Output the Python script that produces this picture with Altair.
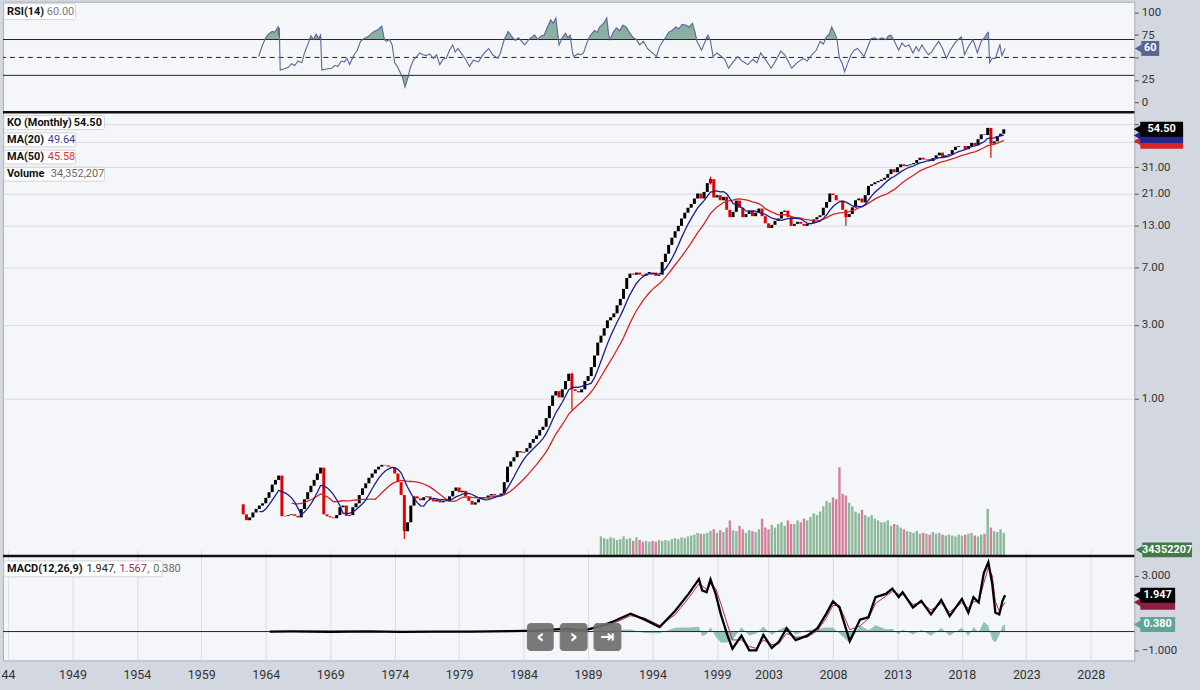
import altair as alt
import pandas as pd

FONT = "Roboto"

# ---------------------------------------------------------------- data
PRICE_T0 = 1962.0  # first quarterly candle (one close per quarter)
CLOSE = [
    0.209, 0.180, 0.165, 0.172,  0.185, 0.195, 0.205, 0.212,
    0.230, 0.250, 0.280, 0.300,  0.320, 0.175, 0.176, 0.178,
    0.180, 0.176, 0.172, 0.195,  0.225, 0.250, 0.275, 0.300,
    0.330, 0.360, 0.180, 0.175,  0.172, 0.170, 0.178, 0.200,
    0.205, 0.176, 0.178, 0.200,  0.212, 0.240, 0.265, 0.285,
    0.310, 0.330, 0.350, 0.365,  0.375, 0.372, 0.365, 0.360,
    0.330, 0.290, 0.240, 0.140,  0.160, 0.205, 0.235, 0.228,
    0.222, 0.232, 0.235, 0.225,  0.218, 0.222, 0.215, 0.220,
    0.218, 0.235, 0.255, 0.268,  0.250, 0.255, 0.235, 0.220,
    0.208, 0.215, 0.225, 0.232,  0.228, 0.238, 0.243, 0.238,
    0.240, 0.245, 0.290, 0.365,  0.395, 0.420, 0.460, 0.450,
    0.455, 0.480, 0.520, 0.550,  0.580, 0.630, 0.660, 0.750,
    0.900, 1.050, 1.120, 1.020,  1.150, 1.300, 1.450, 1.150,
    1.120, 1.100, 1.150, 1.300,  1.400, 1.600, 1.900, 2.300,
    2.550, 2.850, 3.200, 3.350,  3.550, 4.000, 4.400, 5.100,
    6.000, 6.400, 6.300, 6.500,  6.300, 6.200, 6.400, 6.550,
    6.500, 6.200, 6.300, 7.600,  8.600, 9.800, 10.90, 12.00,
    13.00, 14.50, 15.80, 17.00,  18.00, 19.50, 21.00, 19.50,
    21.50, 24.50, 26.00, 19.80,  20.50, 19.00, 20.00, 16.50,
    14.80, 16.00, 18.90, 17.00,  14.80, 15.50, 16.30, 15.00,
    15.80, 16.80, 15.00, 13.50,  12.60, 13.20, 14.00, 14.50,
    16.00, 16.30, 14.80, 13.00,  13.40, 13.80, 13.40, 13.00,
    13.40, 13.60, 14.30, 14.80,  15.20, 17.00, 18.50, 21.00,
    20.50, 19.00, 18.90, 16.50,  14.80, 15.50, 17.10, 19.00,
    19.50, 18.40, 20.50, 23.50,  24.10, 24.80, 25.30, 25.80,
    26.50, 28.00, 30.10, 28.80,  31.00, 32.40, 31.50, 32.00,
    32.40, 33.00, 34.50, 35.70,  34.80, 35.00, 34.00, 35.50,
    37.00, 38.50, 36.00, 37.00,  37.60, 40.00, 42.00, 42.50,
    42.50, 40.50, 42.50, 44.50,  43.00, 47.00, 50.50, 50.00,
    55.60, 44.00, 45.50, 49.20,  51.00, 54.50,
]

WICK_T = [1974.75, 1987.75, 1998.5, 2009.0, 2020.25]
WICK_LO = [0.125, 0.85, 24.0, 13.0, 35.7]
WICK_HI = [0.240, 1.47, 27.0, 16.5, 55.6]

VOL_T0 = 1990.0  # quarterly volume, millions of shares
VOLUME = [
    110, 100, 95, 105,  100, 90, 95, 110,  95, 100, 85, 105,  90, 80, 85, 80,
    85, 80, 90, 85,  90, 85, 95, 100,  95, 105, 100, 110,  115, 120, 130, 125,
    125, 130, 140, 150,  130, 145, 135, 160,  200, 145, 140, 170,  150, 130, 145, 140,
    135, 150, 210, 160,  150, 175, 160, 180,  190, 170, 200, 180,  180, 200, 190, 210,
    200, 220, 240, 230,  250, 280, 310, 300,  330, 320, 500, 350,  340, 300, 280, 250,
    240, 260, 230, 220,  230, 210, 200, 190,  190, 200, 170, 180,  175, 160, 150, 140,
    135, 130, 140, 125,  130, 125, 120, 135,  125, 130, 120, 115,  120, 115, 110, 120,
    115, 120, 125, 130,  115, 110, 120, 125,  265, 160, 140, 135,  150, 130,
]

RSI_T = [
    1963.45, 1963.7, 1963.96, 1964.2, 1964.5, 1964.7, 1964.95, 1965.0, 1965.05, 1965.12,
    1965.4, 1965.75, 1966.0, 1966.25, 1966.5, 1966.8, 1967.0, 1967.3, 1967.5, 1967.7,
    1967.9, 1968.1, 1968.25, 1968.35, 1968.7, 1969.1, 1969.35, 1969.6, 1969.85, 1970.1,
    1970.3, 1970.5, 1970.85, 1971.1, 1971.35, 1971.6, 1971.9, 1972.15, 1972.4, 1972.7,
    1973.0, 1973.2, 1973.35, 1973.6, 1973.8, 1974.0, 1974.2, 1974.4, 1974.6, 1974.8,
    1975.0, 1975.2, 1975.45, 1975.7, 1975.95, 1976.2, 1976.45, 1976.7, 1977.0, 1977.25,
    1977.5, 1977.75, 1978.0, 1978.25, 1978.5, 1978.7, 1978.9, 1979.2, 1979.5, 1979.8,
    1980.1, 1980.5, 1980.8, 1981.0, 1981.3, 1981.6, 1982.0, 1982.2, 1982.5, 1982.8,
    1983.1, 1983.35, 1983.6, 1983.85, 1984.1, 1984.4, 1984.65, 1984.85, 1985.1, 1985.35,
    1985.6, 1985.85, 1986.1, 1986.3, 1986.5, 1986.65, 1986.75, 1987.0, 1987.25, 1987.45,
    1987.6, 1987.8, 1987.9, 1988.2, 1988.45, 1988.65, 1988.9, 1989.2, 1989.5, 1989.7,
    1989.9, 1990.2, 1990.45, 1990.6, 1990.7, 1990.95, 1991.2, 1991.45, 1991.7, 1991.95,
    1992.2, 1992.5, 1992.75, 1993.0, 1993.3, 1993.6, 1993.9, 1994.1, 1994.3, 1994.55,
    1994.8, 1995.0, 1995.25, 1995.5, 1995.8, 1996.05, 1996.3, 1996.6, 1996.85, 1997.1,
    1997.3, 1997.45, 1997.6, 1997.8, 1998.0, 1998.3, 1998.5, 1998.7, 1999.0, 1999.35,
    1999.6, 1999.9, 2000.2, 2000.6, 2000.95, 2001.4, 2001.8, 2002.1, 2002.4, 2002.8,
    2003.2, 2003.5, 2003.95, 2004.3, 2004.8, 2005.2, 2005.7, 2006.0, 2006.35, 2006.7,
    2007.0, 2007.25, 2007.5, 2007.7, 2007.9, 2008.1, 2008.3, 2008.5, 2008.7, 2008.9,
    2009.1, 2009.4, 2009.65, 2009.9, 2010.15, 2010.4, 2010.7, 2010.95, 2011.2, 2011.5,
    2011.8, 2012.1, 2012.3, 2012.5, 2012.7, 2012.9, 2013.1, 2013.35, 2013.6, 2013.9,
    2014.2, 2014.45, 2014.65, 2014.9, 2015.15, 2015.4, 2015.65, 2015.9, 2016.2, 2016.5,
    2016.8, 2017.1, 2017.45, 2017.7, 2017.95, 2018.1, 2018.2, 2018.5, 2018.85, 2019.05,
    2019.2, 2019.5, 2019.75, 2019.95, 2020.05, 2020.15, 2020.35, 2020.6, 2020.8, 2020.95,
    2021.1, 2021.35,
]
RSI_V = [
    51, 62, 71, 76, 79, 78, 84, 74, 83, 36,
    37, 39, 43, 41, 46, 44, 55, 66, 74, 70,
    76, 71, 75, 36, 37, 38, 41, 40, 46, 45,
    49, 42, 53, 58, 68, 71, 73, 76, 79, 81,
    85, 70, 68, 70, 64, 44, 40, 34, 28, 17,
    26, 38, 47, 51, 55, 53, 52, 54, 49, 53,
    42, 48, 49, 58, 64, 56, 60, 54, 48, 40,
    47, 45, 52, 56, 60, 53, 49, 55, 70, 79,
    73, 69, 72, 68, 64, 70, 73, 75, 70, 74,
    75, 84, 92, 88, 94, 76, 64, 72, 77, 72,
    75, 55, 51, 54, 53, 55, 66, 75, 80, 78,
    84, 88, 94, 75, 70, 78, 83, 80, 86, 84,
    78, 72, 70, 64, 68, 60, 56, 54, 51, 62,
    68, 72, 78, 80, 84, 82, 87, 86, 84, 88,
    78, 68, 64, 58, 65, 75, 68, 51, 55, 51,
    48, 38, 44, 51, 46, 42, 48, 44, 55, 47,
    38, 45, 57, 52, 38, 44, 49, 46, 53, 58,
    68, 65, 73, 76, 84, 78, 71, 49, 44, 34,
    42, 53, 58, 60, 56, 51, 62, 71, 72, 70,
    72, 70, 74, 75, 70, 64, 58, 66, 62, 64,
    55, 62, 57, 64, 58, 53, 56, 62, 68, 60,
    49, 58, 66, 70, 73, 62, 53, 62, 70, 62,
    55, 68, 72, 77, 78, 44, 49, 49, 58, 64,
    52, 60,
]

MACD_T = [
    1964.3, 1966.0, 1969.0, 1972.0, 1974.5, 1977.0, 1980.0, 1983.0, 1985.0, 1986.5,
    1987.5, 1988.3, 1989.0, 1989.6, 1989.94, 1991.0, 1992.3, 1993.4, 1994.55, 1995.75,
    1996.8, 1997.6, 1997.85, 1998.2, 1998.5, 1998.9, 1999.3, 1999.8, 2000.2, 2000.9,
    2001.5, 2002.05, 2002.6, 2003.25, 2003.8, 2004.4, 2005.1, 2006.0, 2006.8, 2007.45,
    2008.0, 2008.5, 2009.3, 2010.1, 2010.75, 2011.3, 2012.1, 2012.6, 2013.1, 2013.4,
    2014.2, 2014.85, 2015.6, 2016.4, 2017.05, 2018.0, 2018.5, 2018.9, 2019.3, 2019.7,
    2020.05, 2020.35, 2020.6, 2020.9, 2021.15, 2021.35,
]
MACD_V = [
    0.0, 0.01, -0.01, 0.01, -0.02, 0.0, 0.0, 0.02, 0.05, 0.12,
    0.15, 0.08, 0.12, 0.22, 0.28, 0.55, 0.96, 0.64, 0.24, 1.10,
    2.02, 2.81, 2.21, 2.11, 2.79, 2.02, 0.92, -0.18, -0.92, -0.22,
    -1.01, -1.01, -0.18, -0.88, -0.55, 0.18, -0.46, -0.22, 0.18, 0.92,
    1.62, 1.29, -0.51, 0.64, 0.77, 1.84, 2.02, 2.30, 1.84, 2.11,
    1.29, 1.65, 0.92, 1.69, 0.83, 1.75, 1.01, 1.84, 1.56, 3.13,
    3.71, 2.57, 1.01, 0.92, 1.65, 1.947,
]
SIGNAL_V = [
    0.0, 0.01, -0.005, 0.005, -0.01, 0.0, 0.0, 0.01, 0.04, 0.10,
    0.13, 0.10, 0.10, 0.18, 0.24, 0.45, 0.85, 0.72, 0.33, 0.90,
    1.80, 2.55, 2.45, 2.25, 2.55, 2.30, 1.50, 0.40, -0.45, -0.45,
    -0.80, -0.90, -0.45, -0.70, -0.65, -0.10, -0.30, -0.30, 0.05, 0.70,
    1.40, 1.40, 0.10, 0.30, 0.70, 1.50, 1.90, 2.15, 2.00, 2.00,
    1.45, 1.55, 1.15, 1.50, 1.05, 1.55, 1.25, 1.60, 1.60, 2.60,
    3.40, 3.00, 1.60, 1.10, 1.35, 1.567,
]

X_TICKS = [1944, 1949, 1954, 1959, 1964, 1969, 1974, 1979, 1984, 1989,
           1994, 1999, 2003, 2008, 2013, 2018, 2023, 2028]
PRICE_TICKS = [1, 3, 7, 13, 21, 31, 45, 59]
RSI_TICKS = [0, 25, 50, 75, 100]
MACD_TICKS = [-1, 3]

LAST_CLOSE, LAST_MA20, LAST_MA50 = 54.50, 49.64, 45.58
LAST_VOL_M, LAST_VOL_TXT = 34.352207, "34352207"
LAST_RSI = 60.0
LAST_MACD, LAST_SIGNAL, LAST_HIST = 1.947, 1.567, 0.380

# ---------------------------------------------------------------- frames
price_df = pd.DataFrame({"t": [PRICE_T0 + 0.25 * i for i in range(len(CLOSE))], "close": CLOSE})
wick_df = pd.DataFrame({"t": WICK_T, "lo": WICK_LO, "hi": WICK_HI})
vol_t = [VOL_T0 + 0.25 * i for i in range(len(VOLUME))]
vol_up = []
for tv in vol_t:
    i = int(round((tv - PRICE_T0) * 4))
    vol_up.append(bool(i == 0 or CLOSE[i] >= CLOSE[i - 1]))
vol_df = pd.DataFrame({"t": vol_t, "vol": VOLUME, "up": vol_up})
n = min(len(RSI_T), len(RSI_V))
rsi_df = pd.DataFrame({"t": RSI_T[:n], "rsi": RSI_V[:n]})
m = min(len(MACD_T), len(MACD_V), len(SIGNAL_V))
macd_df = pd.DataFrame({"t": MACD_T[:m], "macd": MACD_V[:m], "sig": SIGNAL_V[:m]})

# ---------------------------------------------------------------- layout (one view, 3 panes)
W, H = 1137, 662
RSI_TOP, RSI_BOT = 0, 111
P_TOP, P_BOT = 111, 557
M_TOP, M_BOT = 557, 662
GRID = "#d9dde4"
XS = alt.Scale(domain=[1944.0, 2030.99], nice=False, zero=False)
X_AXIS = alt.Axis(values=X_TICKS, format="d", grid=True, gridColor=GRID, ticks=False,
                  domain=False, labelPadding=8, labelFlush=True, labelOverlap=False,
                  labelExpr="datum.value == 1944 ? '44' : datum.label",
                  labelFontSize=12.5, labelColor="#333", labelFont=FONT, title=None,
                  minExtent=28, maxExtent=28)


def xenc():
    return alt.X("t:Q", scale=XS, axis=X_AXIS)


def yaxis(values, fmt=None, grid=False, expr=None):
    kw = dict(orient="right", values=values, grid=grid, gridColor=GRID, ticks=True, tickSize=4,
              tickColor="#555", domain=False, labelPadding=3, labelFontSize=11.5,
              labelColor="#333", labelFont=FONT, title=None, minExtent=63, maxExtent=63)
    if fmt:
        kw["format"] = fmt
    if expr:
        kw["labelExpr"] = expr
    return alt.Axis(**kw)


RSI_SCALE = alt.Scale(domain=[-11.11, 112.22], range=[RSI_BOT, RSI_TOP], nice=False, zero=False)
# the 50 label sits under the RSI value badge, as in the reference
RSI_AXIS = yaxis(RSI_TICKS, expr="datum.value == 50 ? '' : datum.label")
P_SCALE = alt.Scale(type="log", domain=[0.0971, 70.2], range=[P_BOT, P_TOP], nice=False)
P_AXIS = yaxis(PRICE_TICKS, grid=True,
               expr="datum.value == 45 || datum.value == 59 ? '' : format(datum.value, '.2f')")
V_SCALE = alt.Scale(domain=[0, 2500], range=[P_BOT, P_TOP], nice=False, zero=True)
M_SCALE = alt.Scale(domain=[-1.547, 4.053], range=[M_BOT, M_TOP], nice=False, zero=False)
M_AXIS = yaxis(MACD_TICKS, fmt=".3f")


def yr(f):
    return alt.Y(f"{f}:Q", scale=RSI_SCALE, axis=RSI_AXIS)


def yp(f):
    return alt.Y(f"{f}:Q", scale=P_SCALE, axis=P_AXIS)


def yv(f):
    return alt.Y(f"{f}:Q", scale=V_SCALE, axis=None)


def ym(f):
    return alt.Y(f"{f}:Q", scale=M_SCALE, axis=M_AXIS)


ONE = pd.DataFrame({"a": [0]})


def txt(s, x, y, color="#111", bold=False, size=11, align="left", font=FONT):
    return alt.Chart(pd.DataFrame({"s": [s]})).mark_text(
        align=align, baseline="middle", fontSize=size, font=font,
        fontWeight="bold" if bold else "normal", color=color
    ).encode(x=alt.value(x), y=alt.value(y), text="s:N")


def box(x1, x2, y1, y2, fill="white", stroke="#cfd2d8", radius=2, opacity=1.0):
    return alt.Chart(ONE).mark_rect(fill=fill, stroke=stroke, strokeWidth=1,
                                    cornerRadius=radius, opacity=opacity).encode(
        x=alt.value(x1), x2=alt.value(x2), y=alt.value(y1), y2=alt.value(y2))


def badge(val, text, yfn, fill, x1, x2):
    d = alt.Chart(pd.DataFrame({"bv": [val], "s": [text]}))
    out = [
        d.mark_rule(color=fill, strokeWidth=15).encode(
            x=alt.value(x1), x2=alt.value(x2), y=yfn("bv")),
        d.mark_point(shape="triangle-left", filled=True, color=fill, size=70,
                     opacity=1, strokeWidth=0).encode(x=alt.value(x1 - 3), y=yfn("bv")),
    ]
    if text:
        out.append(d.mark_text(color="white", fontWeight="bold", fontSize=11, font=FONT,
                               baseline="middle").encode(
            x=alt.value((x1 + x2) / 2), y=yfn("bv"), text="s:N"))
    return out


def sep(y):
    return alt.Chart(ONE).mark_rule(color="#111", strokeWidth=2.5).encode(y=alt.value(y))


# ---------------------------------------------------------------- RSI pane
rb = alt.Chart(rsi_df).transform_calculate(
    hi="max(datum.rsi, 70)", lo="min(datum.rsi, 30)", c70="70", c30="30")
rsi_group = alt.layer(
    rb.mark_area(color="#7ea99a", opacity=0.9).encode(x=xenc(), y=yr("hi"), y2="c70:Q"),
    rb.mark_area(color="#7ea99a", opacity=0.9).encode(x=xenc(), y=yr("lo"), y2="c30:Q"),
    alt.Chart(pd.DataFrame({"v": [70, 30]})).mark_rule(color="#222", strokeWidth=1).encode(
        y=yr("v")),
    alt.Chart(pd.DataFrame({"v": [50]})).mark_rule(
        color="#222", strokeWidth=1, strokeDash=[5, 4]).encode(y=yr("v")),
    rb.mark_line(color="#5a6598", strokeWidth=1.1).encode(x=xenc(), y=yr("rsi")),
    *badge(LAST_RSI, f"{LAST_RSI:.0f}", yr, "#5b6592", 1144, 1162),
)

# ---------------------------------------------------------------- price pane
pb = alt.Chart(price_df).transform_window(
    prev="lag(close)", sort=[alt.SortField("t")]
).transform_calculate(open="datum.prev == null ? datum.close : datum.prev")
candles = pb.mark_bar(size=3.0).encode(
    x=xenc(), y=yp("open"), y2="close:Q",
    color=alt.condition("datum.close >= datum.open", alt.value("#000000"), alt.value("#e00000")))
wicks = alt.Chart(wick_df).mark_rule(color="#e00000", strokeWidth=1.2).encode(
    x=xenc(), y=yp("lo"), y2="hi:Q")


def ma_layer(k, color):
    return alt.Chart(price_df).transform_window(
        ma="mean(close)", frame=[-(k - 1), 0], sort=[alt.SortField("t")]
    ).transform_window(
        rn="row_number()", sort=[alt.SortField("t")]
    ).transform_filter(f"datum.rn >= {k}").mark_line(color=color, strokeWidth=1.3).encode(
        x=xenc(), y=yp("ma"))


vol_group = alt.layer(
    alt.Chart(vol_df).mark_bar(size=2.4, opacity=0.7).encode(
        x=xenc(), y=yv("vol"),
        color=alt.condition("datum.up", alt.value("#5d9e6f"), alt.value("#c94b76"))),
    *badge(LAST_VOL_M, LAST_VOL_TXT, yv, "#3f7a47", 1145, 1195),
)

price_group = alt.layer(
    candles, wicks,
    ma_layer(17, "#d62424"),   # MA(50): 50 months ~ 17 quarters
    ma_layer(7, "#1c1c8c"),    # MA(20): 20 months ~ 7 quarters
    *badge(LAST_MA50, "", yp, "#d62424", 1143, 1186),
    *badge(LAST_MA20, "", yp, "#24248f", 1143, 1186),
    *badge(LAST_CLOSE, f"{LAST_CLOSE:.2f}", yp, "#000000", 1143, 1186),
)

# ---------------------------------------------------------------- MACD pane
mb = alt.Chart(macd_df).transform_calculate(hist="datum.macd - datum.sig", zero="0")
macd_group = alt.layer(
    mb.mark_area(color="#80b9ab", opacity=0.85).encode(x=xenc(), y=ym("hist"), y2="zero:Q"),
    alt.Chart(pd.DataFrame({"v": [0]})).mark_rule(color="#222", strokeWidth=1).encode(y=ym("v")),
    mb.mark_line(color="#ae2a52", strokeWidth=1).encode(x=xenc(), y=ym("sig")),
    mb.mark_line(color="#000000", strokeWidth=2.3).encode(x=xenc(), y=ym("macd")),
    *badge(LAST_HIST, f"{LAST_HIST:.3f}", ym, "#5ea497", 1143, 1178),
    *badge(LAST_SIGNAL, "", ym, "#8e1d40", 1143, 1178),
    *badge(LAST_MACD, f"{LAST_MACD:.3f}", ym, "#000000", 1143, 1178),
)

# ---------------------------------------------------------------- overlays (legends, buttons)
overlay = [sep(P_TOP), sep(M_TOP)]
overlay += [box(1, 73, 2, 18), txt("RSI(14)", 4, 10.5, bold=True),
            txt(f"{LAST_RSI:.2f}", 44, 10.5, color="#7a7a7a")]
leg = [("KO (Monthly)", f"{LAST_CLOSE:.2f}", "#111", True, 102, 71),
       ("MA(20)", f"{LAST_MA20:.2f}", "#3a3a9c", False, 73, 45),
       ("MA(50)", f"{LAST_MA50:.2f}", "#e02a2a", False, 73, 45),
       ("Volume", "34,352,207", "#666", False, 102, 48)]
for k, (lab, val, col, vb, bx2, vx) in enumerate(leg):
    yc = P_TOP + 10.5 + 17.3 * k
    overlay += [box(1, bx2, yc - 7, yc + 7), txt(lab, 4, yc, bold=True),
                txt(val, vx, yc, color=col, bold=vb)]
ym0 = M_TOP + 13
overlay += [box(1, 160, ym0 - 8, ym0 + 8), txt("MACD(12,26,9)", 4, ym0, bold=True),
            txt(f"{LAST_MACD:.3f}", 84, ym0, color="#222"), txt(",", 111, ym0, color="#666"),
            txt(f"{LAST_SIGNAL:.3f}", 117, ym0, color="#a3284f"),
            txt(",", 145, ym0, color="#666"),
            txt(f"{LAST_HIST:.3f}", 151, ym0, color="#666")]
for (x1, x2), g in zip([(527, 553), (560, 587), (594, 621)], ["\u2039", "\u203a", "\u21e5"]):
    overlay.append(box(x1, x2, M_TOP + 68, M_TOP + 95, fill="#6f6f6f", stroke="#6f6f6f",
                       radius=3, opacity=0.92))
    overlay.append(txt(g, (x1 + x2) / 2, M_TOP + 81, color="white", bold=True,
                       size=20 if g != "\u21e5" else 17, align="center", font="DejaVu Sans"))

chart = alt.layer(
    rsi_group, vol_group, price_group, macd_group, *overlay
).resolve_scale(y="independent").properties(
    width=W, height=H, background="#d3d8e0", padding=0
).configure_view(fill="#f5f6f9", stroke="#a9aeb7", strokeWidth=1).configure_axis(labelFont=FONT)

chart.save("out.html", embed_options={"renderer": "svg", "actions": False})
